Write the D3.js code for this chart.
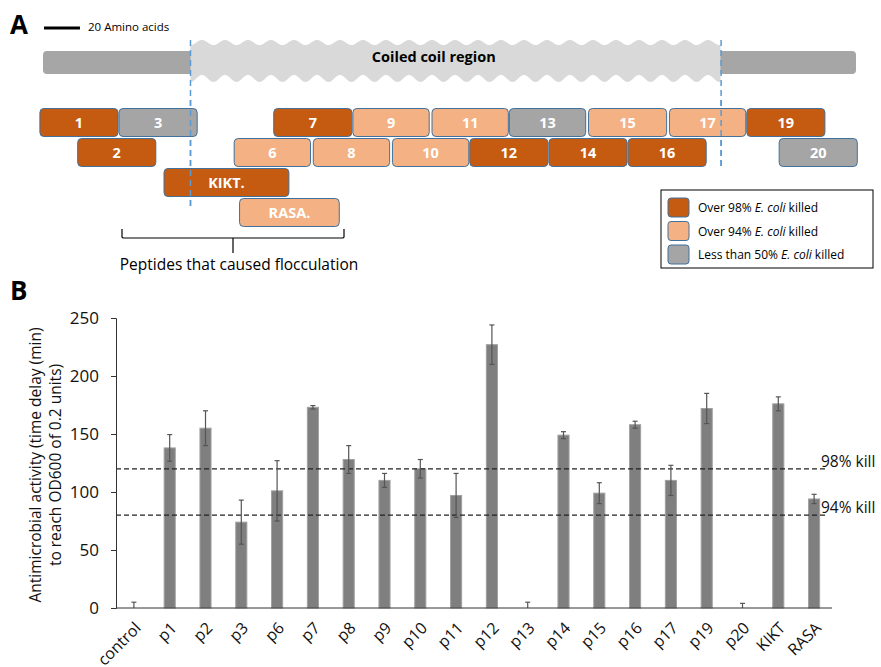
<!DOCTYPE html>
<html>
<head>
<meta charset="utf-8">
<script src="https://cdn.jsdelivr.net/npm/d3@7"></script>
<style>
  body { margin: 0; background: #fff; }
  svg { font-family: "Open Sans", sans-serif; }
</style>
</head>
<body>
<svg id="fig"></svg>
<script>
// ---- Panel A data (positions in amino-acid residues) ----
const proteinLength = 452;
const coilStart = 82, coilEnd = 377;
const scaleBarAA = 20;

const peptideNames  = ["1", "3", "7", "9", "11", "13", "15", "17", "19",
                       "2", "6", "8", "10", "12", "14", "16", "20",
                       "KIKT.", "RASA."];
const peptideStart  = [-2, 42, 128, 172, 216, 259, 303, 348, 391,
                       19, 106, 150, 194, 237, 281, 325, 409,
                       67, 109];
const peptideEnd    = [42, 86, 172, 215, 259, 302, 347, 391, 435,
                       63, 149, 193, 237, 281, 325, 369, 453,
                       137, 165];
const peptideRow    = [0, 0, 0, 0, 0, 0, 0, 0, 0,
                       1, 1, 1, 1, 1, 1, 1, 1,
                       2, 3];
const peptideClass  = ["98", "50", "98", "94", "94", "50", "94", "94", "98",
                       "98", "94", "94", "94", "98", "98", "98", "50",
                       "98", "94"];

const legendKeys   = ["98", "94", "50"];
const legendPrefix = ["Over 98% ", "Over 94% ", "Less than 50% "];

// ---- Panel B data ----
const categories = ["control", "p1", "p2", "p3", "p6", "p7", "p8", "p9", "p10", "p11",
                    "p12", "p13", "p14", "p15", "p16", "p17", "p19", "p20", "KIKT", "RASA"];
const delays     = [0, 138, 155, 74, 101, 173, 128, 110, 120, 97,
                    227, 0, 149, 99, 158, 110, 172, 0, 176, 94];
const errors     = [5, 11.5, 15, 19, 26, 1.5, 12, 6, 8, 19,
                    17, 5, 3, 9, 3, 13, 13, 4, 6, 4];
const yTicks     = [0, 50, 100, 150, 200, 250];
const thresholds = [120, 80];
const thresholdLabels = ["98% kill", "94% kill"];

const W = 881, H = 667;
const svg = d3.select("#fig").attr("width", W).attr("height", H);

// ================= Panel A =================
const color = d3.scaleOrdinal()
  .domain(legendKeys)
  .range(["#c55a11", "#f4b183", "#a5a5a5"]);

const xa = d3.scaleLinear().domain([0, proteinLength]).range([43, 856]);
const rowY = d3.scalePoint().domain([0, 1, 2, 3]).range([108, 198]);
const boxH = 28;

svg.append("text").attr("x", 10).attr("y", 34)
  .attr("font-size", 26).attr("font-weight", "bold").text("A");

// scale bar
svg.append("line")
  .attr("x1", 44).attr("x2", 44 + xa(scaleBarAA) - xa(0))
  .attr("y1", 28).attr("y2", 28)
  .attr("stroke", "#000").attr("stroke-width", 3);
svg.append("text").attr("x", 88).attr("y", 31)
  .attr("font-size", 11.5).text(scaleBarAA + " Amino acids");

// full protein bar
svg.append("rect")
  .attr("x", xa(0)).attr("y", 51)
  .attr("width", xa(proteinLength) - xa(0)).attr("height", 23)
  .attr("rx", 4).attr("fill", "#a6a6a6");

// coiled coil wavy ribbon
const c0 = xa(coilStart), c1 = xa(coilEnd), period = 23;
const upper = [], lower = [];
for (let px = c0; px <= c1 + 0.01; px += 1) {
  const ph = Math.cos((px - c0) / period * 2 * Math.PI);
  upper.push([px, 42.5 + 2.5 * ph]);
  lower.push([px, 78.5 + 3.5 * ph]);
}
const ribbon = upper.concat(lower.reverse());
svg.append("path")
  .attr("d", d3.line()(ribbon) + "Z")
  .attr("fill", "#d9d9d9");
svg.append("text")
  .attr("x", (c0 + c1) / 2 - 22).attr("y", 62)
  .attr("text-anchor", "middle").attr("font-size", 14.5).attr("font-weight", "bold")
  .text("Coiled coil region");

// dashed boundaries
const bounds = [[coilStart, 207], [coilEnd, 166]];
function drawBounds(y1) {
  bounds.forEach(([aa, y2]) => {
    svg.append("line")
      .attr("x1", xa(aa)).attr("x2", xa(aa))
      .attr("y1", y1).attr("y2", y2)
      .attr("stroke", "#5b9bd5").attr("stroke-width", 1.5)
      .attr("stroke-dasharray", "6,4");
  });
}
drawBounds(40);

// peptide boxes
const peps = peptideNames.map((n, i) => ({
  name: n, s: peptideStart[i], e: peptideEnd[i], row: peptideRow[i], cls: peptideClass[i]
}));
const pg = svg.append("g").selectAll("g").data(peps).enter().append("g");
pg.append("rect")
  .attr("x", d => xa(d.s) + 0.5)
  .attr("y", d => rowY(d.row) + 0.5)
  .attr("width", d => xa(d.e) - xa(d.s) - 1)
  .attr("height", boxH)
  .attr("rx", 4)
  .attr("fill", d => color(d.cls))
  .attr("stroke", "#41719c").attr("stroke-width", 1);
pg.append("text")
  .attr("x", d => (xa(d.s) + xa(d.e)) / 2)
  .attr("y", d => rowY(d.row) + boxH / 2 + 6)
  .attr("text-anchor", "middle").attr("fill", "#fff")
  .attr("font-size", 14.5).attr("font-weight", "bold")
  .text(d => d.name);

// dashed line shows on top of boxes 3, 17, KIKT
drawBounds(100);

// bracket
svg.append("path")
  .attr("d", "M122,229 L122,237 Q122,238 124,238 L342,238 Q344,238 344,237 L344,229 M233,238 L233,253")
  .attr("fill", "none").attr("stroke", "#000").attr("stroke-width", 1.2);
svg.append("text").attr("x", 239).attr("y", 270)
  .attr("text-anchor", "middle").attr("font-size", 15.5)
  .text("Peptides that caused flocculation");

// legend
const lg = svg.append("g");
lg.append("rect").attr("x", 661).attr("y", 190).attr("width", 212).attr("height", 78)
  .attr("fill", "#fff").attr("stroke", "#000").attr("stroke-width", 1);
legendKeys.forEach((k, i) => {
  const ly = 198 + i * 23.5;
  lg.append("rect").attr("x", 668).attr("y", ly).attr("width", 21).attr("height", 19)
    .attr("rx", 3).attr("fill", color(k)).attr("stroke", "#41719c");
  const t = lg.append("text").attr("x", 698).attr("y", ly + 14).attr("font-size", 12);
  t.append("tspan").text(legendPrefix[i]);
  t.append("tspan").attr("font-style", "italic").text("E. coli");
  t.append("tspan").text(" killed");
});

// ================= Panel B =================
svg.append("text").attr("x", 10).attr("y", 300)
  .attr("font-size", 26).attr("font-weight", "bold").text("B");

const x = d3.scaleBand().domain(categories).range([116, 832]).paddingInner(0.69).paddingOuter(0.345);
const y = d3.scaleLinear().domain([0, 250]).range([608, 318]);

const data = categories.map((c, i) => ({ c, v: delays[i], e: errors[i] }));

// bars
svg.append("g").selectAll("rect").data(data).enter().append("rect")
  .attr("x", d => x(d.c)).attr("y", d => y(d.v))
  .attr("width", x.bandwidth()).attr("height", d => y(0) - y(d.v))
  .attr("fill", "#7f7f7f").attr("stroke", "#a0a0a0").attr("stroke-width", 1);

// threshold lines
thresholds.forEach((t, i) => {
  svg.append("line")
    .attr("x1", 116).attr("x2", 828).attr("y1", y(t)).attr("y2", y(t))
    .attr("stroke", "#222").attr("stroke-width", 1.2).attr("stroke-dasharray", "5,3");
  svg.append("text").attr("x", 821).attr("y", y(t) - 2)
    .attr("font-size", 15.5).attr("fill", "#111").text(thresholdLabels[i]);
});

// error bars
const eb = svg.append("g").attr("stroke", "#555").attr("stroke-width", 1.2);
data.forEach(d => {
  const cx = x(d.c) + x.bandwidth() / 2;
  const lo = Math.max(0, d.v - d.e), hi = d.v + d.e;
  eb.append("line").attr("x1", cx).attr("x2", cx).attr("y1", y(lo)).attr("y2", y(hi));
  eb.append("line").attr("x1", cx - 2.5).attr("x2", cx + 2.5).attr("y1", y(hi)).attr("y2", y(hi));
  if (d.v > 0) eb.append("line").attr("x1", cx - 2.5).attr("x2", cx + 2.5).attr("y1", y(lo)).attr("y2", y(lo));
});

// axes
const yAxis = svg.append("g").attr("transform", "translate(116,0)")
  .call(d3.axisLeft(y).tickValues(yTicks).tickSize(5).tickPadding(12));
yAxis.selectAll("text").attr("font-size", 17).attr("fill", "#111").attr("font-family", "Open Sans");
yAxis.selectAll("line, path").attr("stroke", "#333");

const xAxis = svg.append("g").attr("transform", "translate(0,608)")
  .call(d3.axisBottom(x).tickSize(0).tickPadding(0));
xAxis.select("path").attr("stroke", "#333").attr("d", "M116,0H832");
xAxis.selectAll("text")
  .attr("font-size", 16).attr("font-family", "Open Sans").attr("fill", "#111")
  .attr("text-anchor", "end").attr("dy", null).attr("y", 0)
  .attr("transform", "translate(8,21) rotate(-45)");

// y title
const yt = svg.append("text").attr("transform", "translate(41,465) rotate(-90)")
  .attr("text-anchor", "middle").attr("font-size", 15.5).attr("fill", "#111");
yt.append("tspan").attr("x", 0).attr("dy", 0).text("Antimicrobial activity (time delay (min)");
yt.append("tspan").attr("x", 0).attr("dy", 20).text("to reach OD600 of 0.2 units)");
</script>
</body>
</html>
